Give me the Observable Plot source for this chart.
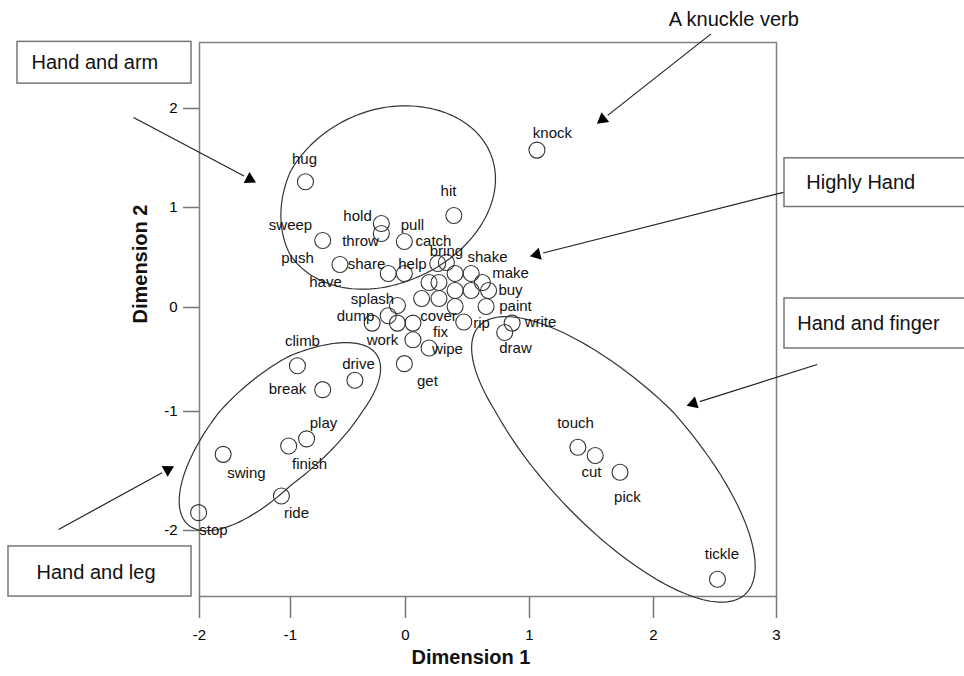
<!DOCTYPE html>
<html><head><meta charset="utf-8">
<script src="https://cdn.jsdelivr.net/npm/d3@7"></script>
<script src="https://cdn.jsdelivr.net/npm/@observablehq/plot@0.6"></script>
<style>
  body { margin: 0; background: #fff; }
  #chart svg { display: block; }
  #chart svg g[aria-label*="axis"] text { font-size: 15px; }
</style>
</head><body>
<div id="chart"></div>
<script>
// ---- Tick labels ----
const xTicks = [-2, -1, 0, 1, 2, 3];
const yTicks = [-2, -1, 0, 1, 2];

// ---- Points (circles): verb, Dimension 1, Dimension 2 ----
const verbs = ["knock","hug","hit","hold","throw","pull","sweep","push","share","help",
  "bring","catch","","shake","make","buy","have","","","",
  "","","","paint","splash","dump","","work","cover","rip",
  "write","draw","fix","wipe","get","drive","climb","break","play","finish",
  "swing","ride","stop","touch","cut","pick","tickle"];
const dim1 = [1.06,-0.87,0.39,-0.21,-0.21,-0.01,-0.72,-0.57,-0.15,-0.01,
  0.26,0.33,0.40,0.53,0.62,0.67,0.27,0.19,0.40,0.53,
  0.13,0.27,0.40,0.65,-0.07,-0.29,-0.15,-0.07,0.06,0.47,
  0.86,0.80,0.06,0.19,-0.01,-0.44,-0.94,-0.72,-0.86,-1.02,
  -1.74,-1.10,-2.01,1.39,1.53,1.73,2.52];
const dim2 = [1.58,1.26,0.92,0.84,0.74,0.66,0.67,0.43,0.34,0.34,
  0.44,0.45,0.34,0.34,0.25,0.17,0.25,0.25,0.17,0.17,
  0.09,0.09,0.01,0.01,0.02,-0.15,-0.08,-0.15,-0.15,-0.14,
  -0.15,-0.24,-0.31,-0.39,-0.54,-0.70,-0.56,-0.79,-1.23,-1.29,
  -1.36,-1.71,-1.85,-1.30,-1.37,-1.51,-2.41];

// ---- Word label anchors (data units) ----
const labelWords = ["knock","hug","hit","hold","throw","pull","catch","sweep","push","share",
  "have","help","bring","shake","make","buy","paint","write","draw","rip",
  "splash","dump","cover","fix","work","wipe","get","drive","climb","break",
  "play","finish","swing","ride","stop","touch","cut","pick","tickle"];
const labelDim1 = [1.185,-0.878,0.347,-0.417,-0.391,0.056,0.226,-1.0,-0.939,-0.339,
  -0.696,0.056,0.33,0.661,0.847,0.847,0.887,1.089,0.887,0.613,
  -0.287,-0.435,0.266,0.282,-0.2,0.339,0.177,-0.409,-0.896,-1.033,
  -0.713,-0.835,-1.484,-0.948,-1.846,1.371,1.5,1.79,2.556];
const labelDim2 = [1.749,1.487,1.166,0.915,0.663,0.824,0.668,0.824,0.492,0.432,
  0.251,0.432,0.56,0.503,0.342,0.171,0.01,-0.144,-0.394,-0.154,
  0.08,-0.087,-0.087,-0.24,-0.317,-0.404,-0.712,-0.548,-0.327,-0.788,
  -1.101,-1.445,-1.521,-1.857,-2.0,-1.101,-1.513,-1.723,-2.202];

// ---- Group ellipses: centre and two conjugate half-axes (data units) ----
const groupNames = ["Hand and arm", "Hand and leg", "Hand and finger"];
const groupCx = [-0.19, -1.22, 1.68];
const groupCy = [1.105, -1.17, -1.345];
const groupUx = [0.856, 0.932, 1.072];
const groupUy = [0.492, 0.761, -1.184];
const groupVx = [0.325, 0.371, 0.407];
const groupVy = [-0.78, -0.337, 0.4225];

// ---- Callout boxes (data units) ----
const boxLabels = ["Hand and arm", "Highly Hand", "Hand and finger", "Hand and leg"];
const boxX1 = [-4.0, 3.065, 3.065, -4.099];
const boxX2 = [-2.088, 4.6, 4.6, -2.088];
const boxY1 = [2.251, 1.005, -0.394, -2.555];
const boxY2 = [2.673, 1.497, 0.09, -2.134];
const boxTextX = [-3.846, 3.242, 3.169, -3.791];
const boxTextY = [2.462, 1.256, -0.154, -2.353];

// ---- Callout arrows (data units) ----
const arrowNames = ["A knuckle verb", "Hand and arm", "Highly Hand", "Hand and finger", "Hand and leg"];
const arrowX1 = [2.468, -2.725, 3.065, 3.331, -3.549];
const arrowY1 = [2.754, 1.910, 1.156, -0.548, -1.992];
const arrowX2 = [1.548, -1.385, 1.008, 2.274, -2.286];
const arrowY2 = [1.849, 1.256, 0.513, -0.942, -1.462];

const noteText = "A knuckle verb";
const noteX = 2.653, noteY = 2.894;

// ---- Layout (pixel placement of the reference's tick marks) ----
const xOpts = {type: "linear", domain: xTicks, range: [199, 290, 405, 529, 653, 776]};
const yOpts = {type: "linear", domain: yTicks, range: [530, 411, 307, 207, 108]};
const sx = Plot.scale({x: xOpts});
const sy = Plot.scale({y: yOpts});

const points = verbs.map((v, i) => ({verb: v, d1: dim1[i], d2: dim2[i]}));
const labels = labelWords.map((w, i) => ({w, x: labelDim1[i], y: labelDim2[i]}));

const ellipsePts = [];
groupNames.forEach((g, k) => {
  for (let i = 0; i <= 180; i++) {
    const t = i / 180 * 2 * Math.PI;
    ellipsePts.push({g,
      x: groupCx[k] + groupUx[k] * Math.cos(t) + groupVx[k] * Math.sin(t),
      y: groupCy[k] + groupUy[k] * Math.cos(t) + groupVy[k] * Math.sin(t)});
  }
});

const boxes = boxLabels.map((b, i) => ({b, x1: boxX1[i], x2: boxX2[i], y1: boxY1[i], y2: boxY2[i], tx: boxTextX[i], ty: boxTextY[i]}));

const arrows = arrowNames.map((a, i) => {
  const px1 = sx.apply(arrowX1[i]), py1 = sy.apply(arrowY1[i]);
  const px2 = sx.apply(arrowX2[i]), py2 = sy.apply(arrowY2[i]);
  const L = Math.hypot(px2 - px1, py2 - py1);
  const ux = (px2 - px1) / L, uy = (py2 - py1) / L;
  const back = 6.5;
  return {a, x1: arrowX1[i], y1: arrowY1[i], x2: arrowX2[i], y2: arrowY2[i],
    hx: sx.invert(px2 - back * ux), hy: sy.invert(py2 - back * uy),
    lx: sx.invert(px2 - 2 * back * ux), ly: sy.invert(py2 - 2 * back * uy),
    angle: Math.atan2(ux, -uy) * 180 / Math.PI};
});

const FONT = "'Liberation Sans', Arial, Helvetica, sans-serif";
const hasAxisMarks = typeof Plot.axisX === "function";
const fmt = d => String(d);

const axisMarks = hasAxisMarks ? [
  Plot.axisX({ticks: xTicks, tickSize: 22, tickPadding: 11, tickFormat: fmt, fontSize: 15, stroke: "#777", fill: "#000", strokeWidth: 1.5, label: null}),
  Plot.axisY({ticks: yTicks, tickSize: 16, tickPadding: 6, tickFormat: fmt, fontSize: 15, stroke: "#777", fill: "#000", strokeWidth: 1.5, label: null})
] : [];

const chart = Plot.plot({
  width: 964, height: 676,
  marginLeft: 199, marginRight: 188, marginTop: 42, marginBottom: 80,
  style: {fontFamily: FONT, fontSize: "15px", background: "#fff", color: "#000"},
  x: {...xOpts, ...(hasAxisMarks ? {axis: null} : {ticks: xTicks, tickSize: 22, tickPadding: 11, tickFormat: fmt, label: null})},
  y: {...yOpts, ...(hasAxisMarks ? {axis: null} : {ticks: yTicks, tickSize: 16, tickPadding: 6, tickFormat: fmt, label: null})},
  marks: [
    Plot.frame({stroke: "#808080", strokeWidth: 1.5}),
    ...axisMarks,
    Plot.line(ellipsePts, {x: "x", y: "y", z: "g", stroke: "#333", strokeWidth: 1.2}),
    Plot.link(arrows, {x1: "x1", y1: "y1", x2: "lx", y2: "ly", stroke: "#222", strokeWidth: 1.2}),
    Plot.dot(arrows, {x: "hx", y: "hy", symbol: "triangle", r: 4.6, fill: "#000", stroke: "none", rotate: "angle"}),
    Plot.rect(boxes, {x1: "x1", x2: "x2", y1: "y1", y2: "y2", fill: "#fff", stroke: "#777", strokeWidth: 1.5}),
    Plot.text(boxes, {x: "tx", y: "ty", text: "b", textAnchor: "start", fontSize: 20, fill: "#111"}),
    Plot.text([noteText], {x: () => noteX, y: () => noteY, text: d => d, fontSize: 20, fill: "#111"}),
    Plot.dot(points, {x: "d1", y: "d2", r: 8, stroke: "#333", strokeWidth: 1.1, fill: "none"}),
    Plot.text(labels, {x: "x", y: "y", text: "w", fontSize: 15, fill: "#111"}),
    Plot.text(["Dimension 1"], {frameAnchor: "bottom", dy: 67, dx: -17, text: d => d, fontSize: 20, fontWeight: "bold", fill: "#111"}),
    Plot.text(["Dimension 2"], {frameAnchor: "left", dx: -59, dy: 4, rotate: -90, text: d => d, fontSize: 20, fontWeight: "bold", fill: "#111"})
  ]
});
document.getElementById("chart").appendChild(chart);
</script>
</body></html>
